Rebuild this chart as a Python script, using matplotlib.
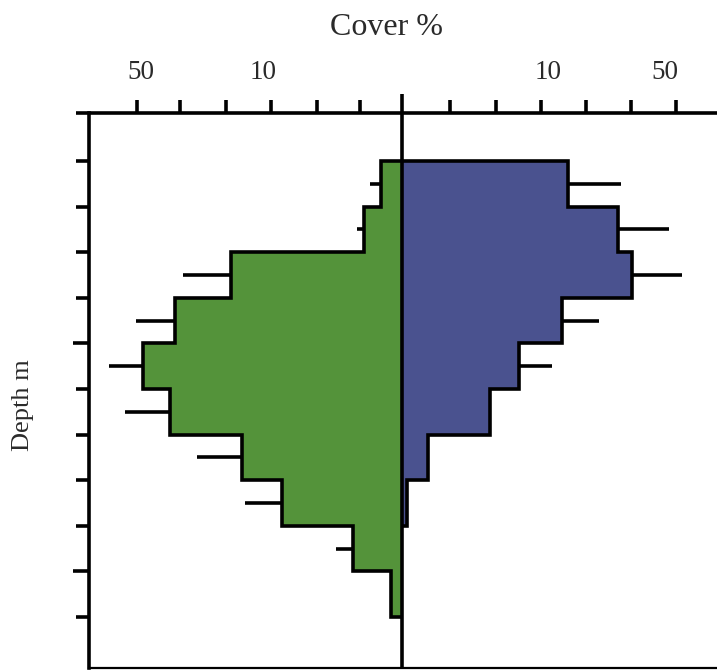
import matplotlib
matplotlib.use("Agg")
import matplotlib.pyplot as plt
import numpy as np

# Depth bins (tick units on the depth axis; 0 = top of profile)
depth_edges = [0, 1, 2, 3, 4, 5, 6, 7, 8, 9, 10]

# Cover on the chart's transformed scale (about one top-axis tick per unit)
green_cover = [0.47, 0.84, 3.80, 5.04, 5.76, 5.16, 3.56, 2.67, 1.09, 0.24]
green_err   = [0.24, 0.16, 1.07, 0.87, 0.75, 1.00, 1.00, 0.82, 0.38, 0.00]
blue_cover  = [3.68, 4.80, 5.10, 3.56, 2.60, 1.96, 0.58, 0.10, 0.00, 0.00]
blue_err    = [1.18, 1.13, 1.12, 0.82, 0.73, 0.00, 0.00, 0.00, 0.00, 0.00]

# Top axis
minor_ticks = [-5.88, -4.93, -3.92, -2.92, -1.90, -0.94,
               1.06, 2.08, 3.09, 4.08, 5.08, 6.08]
label_pos = [-5.81, -3.09, 3.24, 5.84]
label_txt = ["50", "10", "10", "50"]
depth_minor = [0, 1, 2, 3, 5, 6, 7, 8, 10]
depth_major = [4, 9]

GREEN = "#54933A"
BLUE = "#4A528F"
LW = 2.6
SERIF = ["Liberation Serif", "DejaVu Serif"]
TXT = "#2a2a2a"

W, H = 717, 670
fig = plt.figure(figsize=(W / 100, H / 100), dpi=100)

# axes geometry in pixels
left_px, right_px = 89.3, 739.5
top_px, bot_px = 113.0, 667.5
ax = fig.add_axes([left_px / W, 1 - bot_px / H, (right_px - left_px) / W, (bot_px - top_px) / H])

xmin, xmax = -6.95, 7.5
ytop, ybot = -1.053, 11.11
ax.set_xlim(xmin, xmax)
ax.set_ylim(ybot, ytop)

edges = np.array(depth_edges, dtype=float)
mids = (edges[:-1] + edges[1:]) / 2
g = -np.array(green_cover)
b = np.array(blue_cover)

ax.stairs(g, edges, orientation="horizontal", baseline=0, fill=True,
          facecolor=GREEN, edgecolor="none", zorder=2)
ax.stairs(g, edges, orientation="horizontal", baseline=0, fill=False,
          color="black", linewidth=LW, zorder=3)
nb = int(np.count_nonzero(b))
ax.stairs(b[:nb], edges[:nb + 1], orientation="horizontal", baseline=0, fill=True,
          facecolor=BLUE, edgecolor="none", zorder=2)
ax.stairs(b[:nb], edges[:nb + 1], orientation="horizontal", baseline=0, fill=False,
          color="black", linewidth=LW, zorder=3)

ax.errorbar(g, mids, xerr=[green_err, np.zeros(len(g))], fmt="none",
            ecolor="black", elinewidth=LW, capsize=0, zorder=3)
ax.errorbar(b, mids, xerr=[np.zeros(len(b)), blue_err], fmt="none",
            ecolor="black", elinewidth=LW, capsize=0, zorder=3)

# centre line, extending above the top axis
ext = 19 / ((bot_px - top_px) / (ybot - ytop))
ax.plot([0, 0], [ytop - ext, ybot], color="black", lw=LW, clip_on=False, zorder=4,
        solid_capstyle="butt")

# spines
ax.spines["right"].set_visible(False)
ax.spines["top"].set_visible(False)
ax.spines["left"].set_linewidth(LW)
ax.spines["bottom"].set_linewidth(1.6)
# top axis line that overhangs the left spine
px_per_x = (right_px - left_px) / (xmax - xmin)
ax.plot([xmin - 13.5 / px_per_x, xmax], [ytop, ytop], color="black", lw=LW,
        clip_on=False, zorder=4, solid_capstyle="butt")

# x ticks on top
ax.xaxis.set_ticks_position("top")
ax.set_xticks(label_pos)
ax.set_xticklabels(label_txt, fontfamily=SERIF, fontsize=19.5, color=TXT)
ax.set_xticks(minor_ticks, minor=True)
ax.tick_params(axis="x", which="major", length=0, pad=20)
ax.tick_params(axis="x", which="minor", direction="out", length=9.4, width=LW)
ax.tick_params(axis="x", which="both", bottom=False, top=True)

# y ticks on left
ax.set_yticks(depth_major)
ax.set_yticks(depth_minor, minor=True)
ax.set_yticklabels([])
ax.tick_params(axis="y", which="major", direction="out", length=11.5, width=LW)
ax.tick_params(axis="y", which="minor", direction="out", length=9.4, width=LW)
ax.tick_params(axis="y", which="both", right=False)

fig.text(386.5 / W, 1 - 35 / H, "Cover %", ha="center", va="baseline",
         fontfamily=SERIF, fontsize=23, color=TXT)
fig.text(23 / W, 1 - 405 / H, "Depth m", ha="center", va="center", rotation=90,
         fontfamily=SERIF, fontsize=19, color=TXT)

fig.savefig("out.png", dpi=100)
